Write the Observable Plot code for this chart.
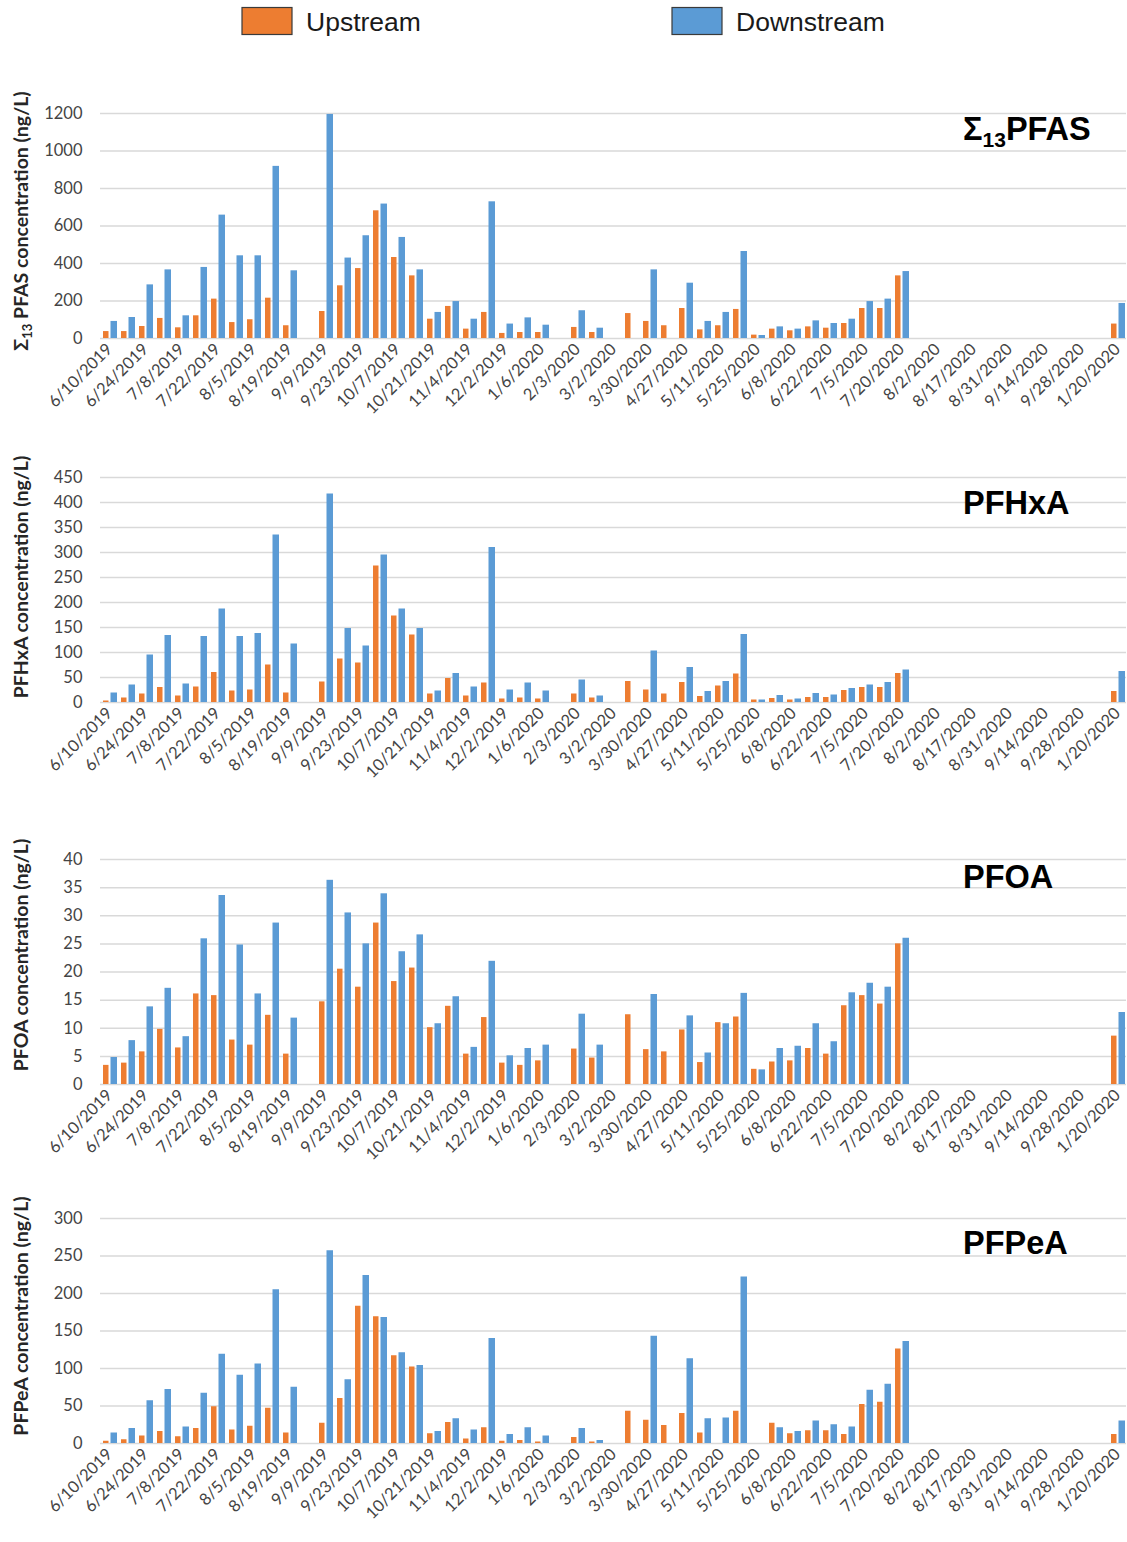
<!DOCTYPE html>
<html>
<head>
<meta charset="utf-8">
<script src="https://cdn.jsdelivr.net/npm/d3@7"></script>
<script src="https://cdn.jsdelivr.net/npm/@observablehq/plot@0.6"></script>
<style>
  body { margin: 0; background: #fff; }
  #chart { position: relative; width: 1127px; height: 1542px; overflow: hidden; background: #fff; }
  #chart > svg { position: absolute; left: 0; }
</style>
</head>
<body>
<div id="chart"></div>
<script>
// Sampling dates (every other date is labelled on the axis)
const dates = [
  "6/10/2019", "6/17/2019", "6/24/2019", "7/1/2019", "7/8/2019", "7/15/2019",
  "7/22/2019", "7/29/2019", "8/5/2019", "8/12/2019", "8/19/2019", "8/26/2019",
  "9/9/2019", "9/16/2019", "9/23/2019", "9/30/2019", "10/7/2019", "10/14/2019",
  "10/21/2019", "10/28/2019", "11/4/2019", "11/18/2019", "12/2/2019", "12/16/2019",
  "1/6/2020", "1/21/2020", "2/3/2020", "2/17/2020", "3/2/2020", "3/16/2020",
  "3/30/2020", "4/13/2020", "4/27/2020", "5/4/2020", "5/11/2020", "5/18/2020",
  "5/25/2020", "6/1/2020", "6/8/2020", "6/15/2020", "6/22/2020", "6/29/2020",
  "7/5/2020", "7/13/2020", "7/20/2020", "7/27/2020", "8/2/2020", "8/10/2020",
  "8/17/2020", "8/24/2020", "8/31/2020", "9/7/2020", "9/14/2020", "9/21/2020",
  "9/28/2020", "10/12/2020", "1/20/2020"
];
const tickDates = dates.filter((d, i) => i % 2 === 0);

const series = ["Upstream", "Downstream"];
const N = null;
const gap = Array(11).fill(null);

// Σ13PFAS (ng/L)
const sumUp = [37, 37, 64, 107, 57, 121, 210, 85, 100, 215, 68, N, 144, 281, 373, 681, 432, 334, 103, 171, 50, 139, 27, 32, 32, N, 59, 32, N, 133, 91, 68, 160, 46, 68, 155, 18, 50, 41, 62, 55, 80, 160, 160, 334, ...gap, 77];
const sumDown = [91, 112, 286, 366, 121, 379, 658, 441, 441, 918, 361, N, 1195, 429, 548, 717, 539, 366, 139, 197, 103, 729, 77, 110, 71, N, 148, 55, N, N, 366, N, 295, 91, 139, 464, 16, 62, 50, 94, 80, 103, 197, 210, 357, ...gap, 187];

// PFHxA (ng/L)
const hxaUp = [3, 9, 17, 30, 13, 31, 60, 23, 25, 75, 19, N, 41, 87, 79, 273, 173, 135, 17, 48, 13, 39, 7, 9, 7, N, 17, 9, N, 42, 25, 17, 40, 12, 33, 57, 5, 8, 5, 10, 10, 24, 30, 30, 58, ...gap, 22];
const hxaDown = [19, 35, 95, 134, 37, 132, 187, 132, 138, 335, 117, N, 417, 148, 113, 295, 187, 148, 23, 58, 31, 310, 25, 39, 23, N, 45, 13, N, N, 103, N, 70, 22, 42, 136, 5, 14, 7, 18, 15, 28, 35, 40, 65, ...gap, 62];

// PFOA (ng/L)
const pfoaUp = [3.4, 3.8, 5.8, 9.8, 6.5, 16.1, 15.8, 7.9, 7.0, 12.3, 5.4, N, 14.7, 20.5, 17.3, 28.7, 18.3, 20.7, 10.1, 13.9, 5.4, 11.9, 3.8, 3.4, 4.2, N, 6.3, 4.7, N, 12.4, 6.2, 5.8, 9.7, 3.9, 11.0, 12.0, 2.7, 4.0, 4.2, 6.4, 5.4, 14.0, 15.8, 14.3, 25.0, ...gap, 8.6];
const pfoaDown = [4.8, 7.8, 13.8, 17.1, 8.5, 25.9, 33.6, 24.8, 16.1, 28.7, 11.8, N, 36.3, 30.5, 25.0, 33.9, 23.6, 26.6, 10.8, 15.6, 6.6, 21.9, 5.1, 6.4, 7.0, N, 12.5, 7.0, N, N, 16.0, N, 12.2, 5.6, 10.8, 16.2, 2.6, 6.4, 6.8, 10.8, 7.6, 16.3, 18.0, 17.3, 26.0, ...gap, 12.8];

// PFPeA (ng/L)
const pfpeaUp = [3, 5, 10, 16, 9, 20, 49, 18, 23, 47, 14, N, 27, 60, 183, 169, 117, 102, 13, 28, 6, 21, 3, 4, 2, N, 8, 2, N, 43, 31, 24, 40, 14, N, 43, N, 27, 13, 17, 17, 12, 52, 55, 126, ...gap, 12];
const pfpeaDown = [14, 20, 57, 72, 22, 67, 119, 91, 106, 205, 75, N, 257, 85, 224, 168, 121, 104, 16, 33, 18, 140, 12, 21, 10, N, 20, 4, N, N, 143, N, 113, 33, 34, 222, N, 21, 16, 30, 25, 22, 71, 79, 136, ...gap, 30];

const colors = {Upstream: "#ED7D31", Downstream: "#5B9BD5"};
const W = 1127;
const chart = d3.select("#chart");

// Legend
const legend = chart.append("svg").attr("width", W).attr("height", 45).style("top", "0px");
[{name: series[0], x: 242}, {name: series[1], x: 672}].forEach(({name, x}) => {
  legend.append("rect").attr("x", x).attr("y", 7.5).attr("width", 50).attr("height", 27)
    .attr("fill", colors[name]).attr("stroke", "#3a3a3a").attr("stroke-width", 1.2);
  legend.append("text").attr("x", x + 64).attr("y", 31)
    .attr("font-family", "'Liberation Sans', Arial, sans-serif").attr("font-size", 26.5)
    .attr("fill", "#1a1a1a").text(name);
});

// Panel layout: svg top, svg height, gridline extent, title and axis label
const panels = [
  {up: sumUp, down: sumDown, max: 1200, step: 200, top: 45, height: 395, y0: 113, y1: 338,
   title: [["Σ", false], ["13", true], ["PFAS", false]], titleY: 140,
   label: [["Σ", false], ["13", true], [" PFAS concentration (ng/L)", false]], labelY: 221},
  {up: hxaUp, down: hxaDown, max: 450, step: 50, top: 440, height: 380, y0: 477, y1: 702,
   title: [["PFHxA", false]], titleY: 514,
   label: [["PFHxA concentration (ng/L)", false]], labelY: 577},
  {up: pfoaUp, down: pfoaDown, max: 40, step: 5, top: 820, height: 360, y0: 859, y1: 1084,
   title: [["PFOA", false]], titleY: 888,
   label: [["PFOA concentration (ng/L)", false]], labelY: 955},
  {up: pfpeaUp, down: pfpeaDown, max: 300, step: 50, top: 1180, height: 362, y0: 1218, y1: 1443,
   title: [["PFPeA", false]], titleY: 1254,
   label: [["PFPeA concentration (ng/L)", false]], labelY: 1316}
];

panels.forEach(p => {
  const rows = dates.map((date, i) => ({date, up: p.up[i], down: p.down[i]}));
  const ticks = d3.range(0, p.max + p.step / 2, p.step);
  const svg = Plot.plot({
    width: W,
    height: p.height,
    marginLeft: 100,
    marginRight: 1,
    marginTop: p.y0 - p.top,
    marginBottom: p.top + p.height - p.y1,
    style: {fontFamily: "Lato, 'Open Sans', sans-serif", fontSize: "16.5px", color: "#444", background: "transparent"},
    x: {type: "band", domain: dates, padding: 0},
    y: {domain: [0, p.max]},
    marks: [
      Plot.gridY(ticks, {stroke: "#d9d9d9", strokeOpacity: 1, strokeWidth: 1.5}),
      Plot.barY(rows, {x: "date", y: "up", fill: colors.Upstream, insetLeft: 3, insetRight: 9.5}),
      Plot.barY(rows, {x: "date", y: "down", fill: colors.Downstream, insetLeft: 10.5, insetRight: 1}),
      Plot.axisY(ticks, {tickSize: 0, tickPadding: 18, tickFormat: d => String(d), label: null}),
      Plot.axisX(tickDates, {tickSize: 0, tickPadding: 8, tickRotate: -45, label: null})
    ]
  });
  const s = d3.select(svg).style("top", p.top + "px");
  chart.node().appendChild(svg);

  // Panel title
  const t = s.append("text")
    .attr("x", 963).attr("y", p.titleY - p.top).attr("text-anchor", "start")
    .attr("font-family", "'Liberation Sans', Arial, sans-serif")
    .attr("font-weight", "bold").attr("font-size", 32.5).attr("fill", "#000");
  p.title.forEach(([str, sub], i) => {
    const ts = t.append("tspan").text(str);
    if (sub) ts.attr("font-size", 21).attr("dy", 7);
    else if (i > 0) ts.attr("dy", -7);
  });

  // Y-axis title
  const l = s.append("text")
    .attr("transform", `translate(21,${p.labelY - p.top}) rotate(-90)`)
    .attr("text-anchor", "middle").attr("dy", "0.35em")
    .attr("font-family", "Lato, 'Open Sans', sans-serif")
    .attr("font-weight", "bold").attr("font-size", 19.5).attr("fill", "#262626");
  p.label.forEach(([str, sub], i) => {
    const ts = l.append("tspan").text(str);
    if (sub) ts.attr("font-size", 13).attr("dy", 4);
    else if (i > 0) ts.attr("dy", -4);
  });
});
</script>
</body>
</html>
